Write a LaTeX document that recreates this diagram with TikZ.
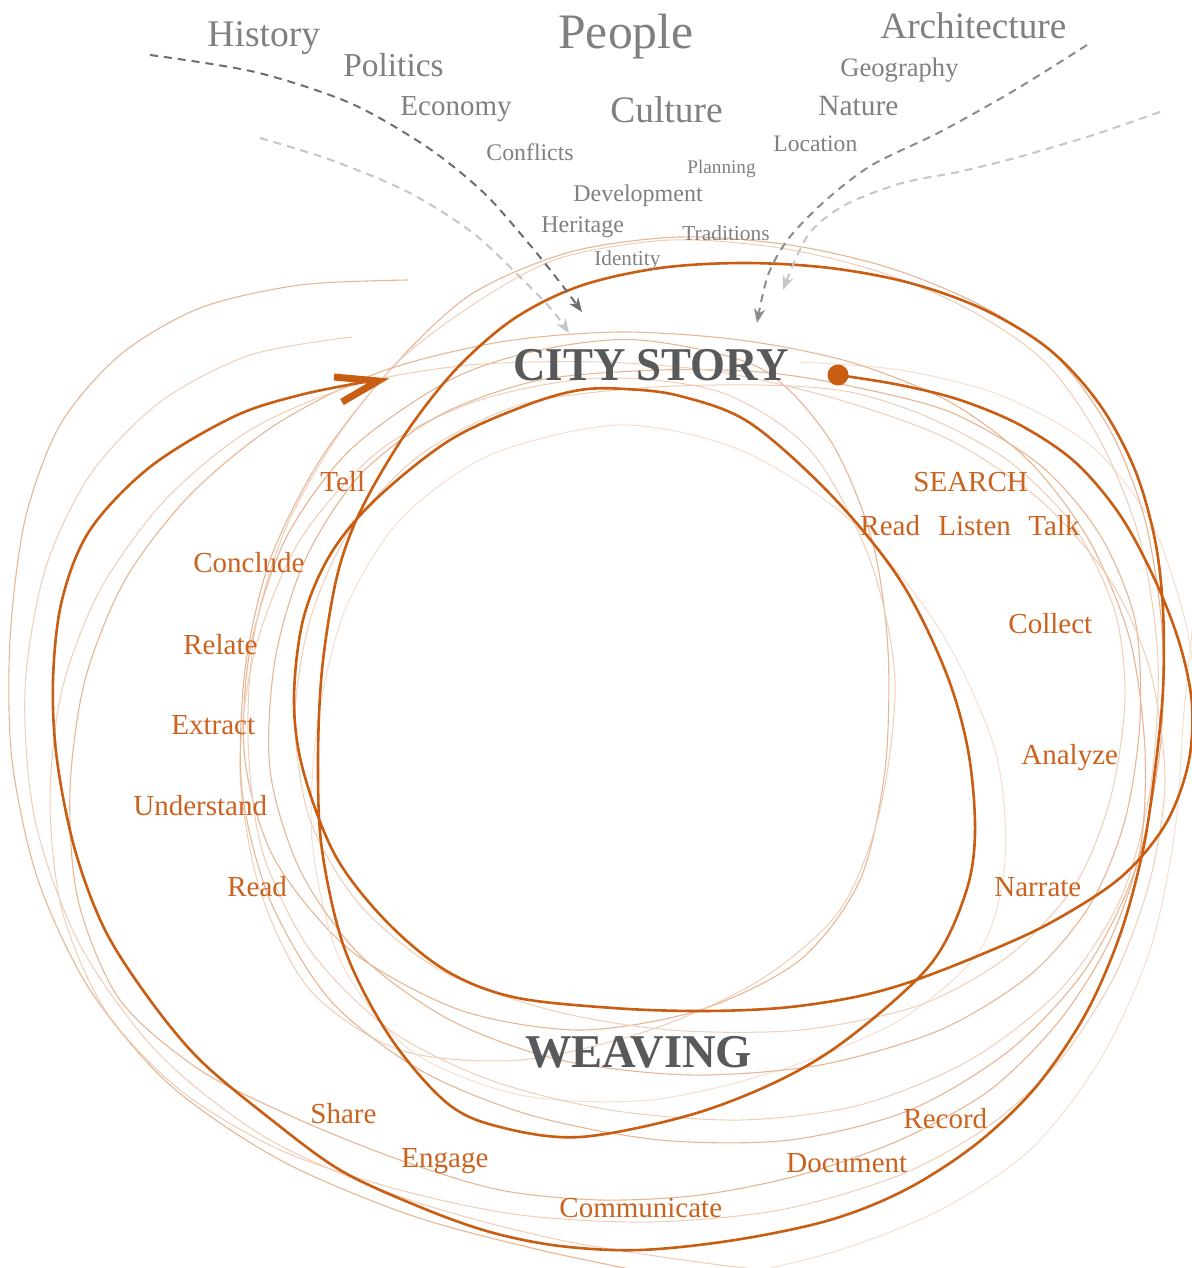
\documentclass[tikz,border=0pt]{standalone}
\usepackage{fontspec}
\setmainfont{Liberation Serif}
\usetikzlibrary{arrows.meta}
\definecolor{thickc}{HTML}{C95D12}
\definecolor{lblc}{HTML}{CB621E}
\definecolor{titlec}{HTML}{58595B}
\definecolor{wordc}{HTML}{808080}
\definecolor{dashdark}{HTML}{6E6E6E}
\definecolor{dashmid}{HTML}{8C8C8C}
\definecolor{dashlight}{HTML}{C6C6C6}
\tikzset{
  mainline/.style={draw=thickc, line width=1.3pt, line cap=round, line join=round},
  faintA/.style={draw=thickc!45, line width=0.55pt},
  faintB/.style={draw=thickc!30, line width=0.5pt},
  faintC/.style={draw=thickc!20, line width=0.5pt},
  wordlbl/.style={inner sep=0pt, anchor=base west, text=wordc},
  orglbl/.style={inner sep=0pt, anchor=base west, text=lblc, font=\fontsize{14.5}{14.5}\selectfont},
  titlelbl/.style={inner sep=0pt, anchor=base west, text=titlec, font=\bfseries\fontsize{23.5}{23.5}\selectfont},
  dashedarrow/.style={line width=1pt, dash pattern=on 4pt off 3pt, -{Stealth[length=7pt,width=5.5pt,inset=2pt]}},
}
\begin{document}
\begin{tikzpicture}[x=0.5pt,y=-0.5pt]
\useasboundingbox (0,0) rectangle (1192,1268);
\fill[white] (0,0) rectangle (1192,1268);

% faint weaving lines: open outer arcs
\draw[faintA] plot[smooth] coordinates {(408,280) (300,285) (200,308) (120,355) (60,425) (25,520) (10,640) (12,760) (38,880) (90,990) (170,1085) (280,1160) (410,1215) (540,1250) (660,1275)};
\draw[faintB] plot[smooth] coordinates {(352,337) (250,355) (160,402) (90,475) (45,570) (25,690) (35,820) (80,945) (160,1055) (270,1140) (410,1200) (560,1240) (720,1265) (820,1275)};
\draw[faintC] plot[smooth] coordinates {(800,362) (900,370) (1000,395) (1090,445) (1150,520) (1185,620) (1200,720)};
\draw[faintC] plot[smooth] coordinates {(1200,560) (1185,700) (1175,830) (1150,950) (1100,1060) (1030,1150) (940,1210) (840,1250) (740,1275)};

% faint weaving loops
\draw[faintA] plot[smooth cycle] coordinates {(640,340) (760,368) (830,440) (872,540) (888,650) (885,770) (860,880) (800,960) (700,1010) (580,1030) (460,1010) (350,950) (275,860) (245,760) (250,650) (285,540) (350,450) (450,380) (540,350)};
\draw[faintB] plot[smooth cycle] coordinates {(600,378) (720,392) (810,450) (870,560) (895,680) (880,810) (840,910) (760,980) (650,1030) (520,1060) (400,1050) (310,990) (260,890) (240,770) (255,650) (300,540) (380,450) (480,400)};
\draw[faintC] plot[smooth cycle] coordinates {(620,425) (740,450) (850,520) (940,630) (995,750) (1005,860) (980,950) (900,1020) (780,1070) (650,1100) (520,1095) (410,1050) (340,960) (312,840) (318,720) (345,610) (400,520) (490,455)};
\draw[faintA] plot[smooth cycle] coordinates {(570,252) (680,237) (790,245) (890,268) (980,305) (1055,355) (1110,430) (1145,520) (1162,630) (1160,750) (1135,870) (1085,970) (1010,1050) (910,1110) (790,1140) (660,1140) (530,1115) (420,1070) (330,1000) (270,900) (242,790) (245,670) (270,560) (320,460) (390,370) (470,295)};
\draw[faintB] plot[smooth cycle] coordinates {(560,258) (670,240) (780,248) (880,272) (970,310) (1045,362) (1100,440) (1140,540) (1158,660) (1150,790) (1120,900) (1060,990) (970,1060) (860,1105) (740,1120) (610,1110) (490,1080) (390,1030) (310,950) (262,850) (248,740) (255,630) (285,530) (335,440) (400,360) (480,300)};
\draw[faintA] plot[smooth cycle] coordinates {(845,385) (950,412) (1040,465) (1100,535) (1135,620) (1140,720) (1125,820) (1090,905) (1030,975) (940,1030) (820,1065) (690,1075) (560,1060) (450,1020) (360,955) (300,870) (270,770) (275,660) (305,560) (360,475) (440,415) (540,380) (660,370) (760,372)};
\draw[faintB] plot[smooth cycle] coordinates {(850,392) (930,418) (1010,462) (1075,528) (1115,612) (1125,700) (1110,800) (1075,885) (1010,955) (920,1005) (800,1030) (670,1030) (550,1010) (440,970) (360,905) (310,820) (295,720) (310,620) (350,530) (420,455) (520,405) (640,388) (760,385)};
\draw[faintA] plot[smooth cycle] coordinates {(1145,750) (1140,850) (1110,940) (1060,1020) (990,1090) (900,1140) (800,1175) (700,1195) (600,1200) (500,1190) (400,1160) (300,1120) (200,1070) (120,1000) (78,900) (70,790) (85,680) (125,580) (190,495) (275,425) (380,372) (500,342) (620,332) (740,340) (850,362) (950,402) (1030,462) (1090,542) (1130,640)};
\draw[faintB] plot[smooth cycle] coordinates {(1165,780) (1150,880) (1115,975) (1060,1060) (990,1125) (900,1175) (780,1210) (650,1222) (520,1215) (400,1190) (280,1150) (180,1090) (105,1010) (62,910) (50,800) (62,690) (100,590) (165,500) (250,430) (355,385) (470,365) (600,362) (720,372) (840,400) (950,440) (1040,500) (1110,580) (1150,670)};

% main woven line
\draw[mainline] plot[smooth, tension=0.55] coordinates {
(838,375) (900,385) (960,400) (1020,425) (1075,462) (1120,515) (1155,580) (1180,645) (1192,705) (1188,765) (1165,825) (1120,878) (1050,923) (980,955) (907,983) (850,998) (780,1008) (700,1011) (613,1008) (513,997) (445,970) (385,920) (335,855) (303,770) (294,700) (303,620) (330,555) (375,500) (450,440) (527,405) (580,390) (625,389) (680,396) (750,423) (833,497) (900,580) (945,670) (968,750) (975,833) (965,895) (930,965) (850,1037) (780,1080) (690,1115) (580,1137) (500,1127) (447,1103) (390,1037) (345,950) (322,850) (318,760) (322,670) (335,585) (352,530) (378,478) (415,420) (460,365) (515,318) (580,286) (660,268) (745,263) (830,268) (910,283) (985,310) (1050,350) (1100,405) (1135,470) (1155,540) (1163,610) (1163,690) (1155,770) (1143,850) (1120,935) (1085,1015) (1035,1088) (975,1145) (905,1190) (830,1220) (735,1240) (640,1250) (560,1246) (490,1232) (420,1207) (340,1170) (268,1117) (200,1060) (150,1000) (105,930) (75,850) (57,760) (53,680) (62,600) (90,530) (150,467) (233,417) (300,395) (370,381)};
\draw[thickc, line width=3.5pt, line join=miter, miter limit=10] (334,377) -- (378,381) -- (342,402);
\fill[thickc] (838,375) circle[radius=10.5];

% dashed arrows
\draw[dashedarrow, dashdark] plot[smooth] coordinates {(150,55) (255,72) (350,103) (427,147) (484,193) (530,245) (562,285) (582,312)};
\draw[dashedarrow, dashlight] plot[smooth] coordinates {(260,138) (331,160) (408,192) (473,233) (523,280) (552,310) (569,333)};
\draw[dashedarrow, dashmid] plot[smooth] coordinates {(1087,45) (1015,90) (940,132) (872,165) (826,200) (789,238) (768,275) (757,323)};
\draw[dashedarrow, dashlight] plot[smooth] coordinates {(1160,112) (1090,136) (1015,158) (958,172) (902,183) (845,205) (808,235) (783,290)};

% top words
\node[wordlbl, font=\fontsize{18.8}{18.8}\selectfont] (history) at (207,47) {History};
\node[wordlbl, font=\fontsize{16.7}{16.7}\selectfont] (politics) at (343,77) {Politics};
\node[wordlbl, font=\fontsize{24.8}{24.8}\selectfont] (people) at (558,49) {People};
\node[wordlbl, font=\fontsize{14.5}{14.5}\selectfont] (economy) at (400,116) {Economy};
\node[wordlbl, font=\fontsize{18.7}{18.7}\selectfont] (culture) at (610,122) {Culture};
\node[wordlbl, font=\fontsize{18.6}{18.6}\selectfont] (architecture) at (880,39) {Architecture};
\node[wordlbl, font=\fontsize{13.3}{13.3}\selectfont] (geography) at (840,77) {Geography};
\node[wordlbl, font=\fontsize{14.7}{14.7}\selectfont] (nature) at (818,116) {Nature};
\node[wordlbl, font=\fontsize{11.8}{11.8}\selectfont] (location) at (773,151) {Location};
\node[wordlbl, font=\fontsize{11.9}{11.9}\selectfont] (conflicts) at (486,161) {Conflicts};
\node[wordlbl, font=\fontsize{9.6}{9.6}\selectfont] (planning) at (687,173) {Planning};
\node[wordlbl, font=\fontsize{12}{12}\selectfont] (development) at (573,201) {Development};
\node[wordlbl, font=\fontsize{12}{12}\selectfont] (heritage) at (541,232) {Heritage};
\node[wordlbl, font=\fontsize{10.7}{10.7}\selectfont] (traditions) at (682,240) {Traditions};
\node[wordlbl, font=\fontsize{10.6}{10.6}\selectfont] (identity) at (594,265) {Identity};

% titles
\node[titlelbl] (citystory) at (513,380) {\scalebox{0.955}[1]{CITY STORY}};
\node[titlelbl] (weaving) at (525,1067) {\scalebox{0.99}[1]{WEAVING}};

% orange labels
\node[orglbl] (search) at (913,491) {SEARCH};
\node[orglbl] (readr) at (860,535) {Read};
\node[orglbl] (listen) at (938,535) {Listen};
\node[orglbl] (talk) at (1028,535) {Talk};
\node[orglbl] (collect) at (1008,633) {Collect};
\node[orglbl] (analyze) at (1021,764) {Analyze};
\node[orglbl] (narrate) at (994,896) {Narrate};
\node[orglbl] (tell) at (320,491) {Tell};
\node[orglbl] (conclude) at (193,572) {Conclude};
\node[orglbl] (relate) at (183,654) {Relate};
\node[orglbl] (extract) at (171,734) {Extract};
\node[orglbl] (understand) at (133,815) {Understand};
\node[orglbl] (readl) at (227,896) {Read};
\node[orglbl] (share) at (310,1123) {Share};
\node[orglbl] (engage) at (401,1167) {Engage};
\node[orglbl] (communicate) at (559,1217) {Communicate};
\node[orglbl] (document) at (786,1172) {Document};
\node[orglbl] (record) at (903,1128) {Record};
\end{tikzpicture}
\end{document}
